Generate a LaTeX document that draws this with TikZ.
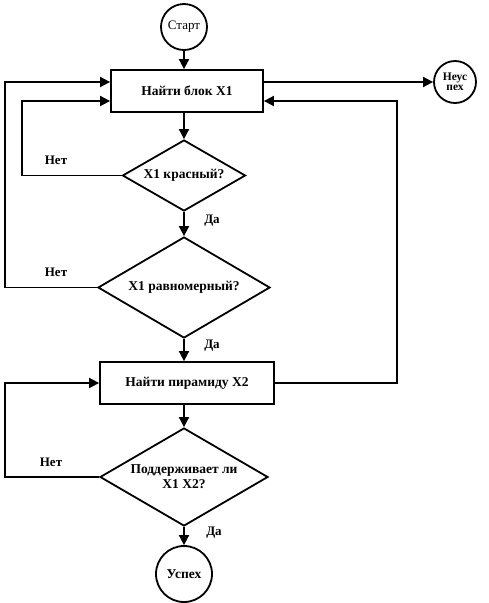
\documentclass[tikz,border=0pt]{standalone}
\usepackage{fontspec}
\setmainfont{Liberation Serif}
\usetikzlibrary{shapes.geometric,arrows.meta}
\begin{document}
\begin{tikzpicture}[x=1pt,y=-1pt,
  every node/.style={font=\bfseries\fontsize{13.5}{15}\selectfont, line width=1.8pt},
  arr/.style={line width=1.8pt,-{Triangle[length=10pt,width=10pt]}},
  term/.style={draw,circle,inner sep=0pt},
  proc/.style={draw,rectangle,inner sep=0pt},
  dec/.style={draw,diamond,inner sep=0pt,aspect=1.7},
  lbl/.style={font=\bfseries\fontsize{13}{14}\selectfont}]
\useasboundingbox (0,0) rectangle (489,603);
\node[term,minimum size=46pt,font=\fontsize{13}{14}\selectfont] (start) at (184,27) {Старт};
\node[proc,minimum width=152pt,minimum height=42pt] (box1) at (187,91) {Найти блок X1};
\node[term,minimum size=42pt,align=center,font=\bfseries\fontsize{11.5}{10}\selectfont] (fail) at (455,82) {Неус\\пех};
\node[dec,minimum width=123pt,minimum height=71pt] (d1) at (184,175.5) {X1 красный?};
\node[dec,minimum width=172pt,minimum height=101pt] (d2) at (184,287.5) {X1 равномерный?};
\node[proc,minimum width=174pt,minimum height=42pt] (box2) at (187,383) {Найти пирамиду X2};
\node[dec,minimum width=168pt,minimum height=98pt,align=center] (d3) at (184,477) {Поддерживает ли\\X1 X2?};
\node[term,minimum size=56pt] (succ) at (184,574) {Успех};
\coordinate (l0) at (5,82);
\coordinate (l1) at (22,101);
\coordinate (l2) at (5,383);
\coordinate (r1) at (397,101);
\draw[arr] (start.south) -- (start.south |- box1.north);
\draw[arr] (d1.north |- box1.south) -- (d1.north);
\draw[arr] (d1.south) -- (d2.north);
\draw[arr] (d2.south) -- (d2.south |- box2.north);
\draw[arr] (d3.north |- box2.south) -- (d3.north);
\draw[arr] (d3.south) -- (succ.north);
\draw[arr] (box1.east |- fail.west) -- (fail.west);
\draw[arr] (d1.west) -| (l1) -- (l1 -| box1.west);
\draw[arr] (d2.west) -| (l0) -- (l0 -| box1.west);
\draw[arr] (box2.east) -| (r1) -- (r1 -| box1.east);
\draw[arr] (d3.west) -| (l2) -- (box2.west);
\node[lbl] (n1) at (56,160) {Нет};
\node[lbl] (n2) at (56,272) {Нет};
\node[lbl] (n3) at (51,462) {Нет};
\node[lbl] (y1) at (212,221) {Да};
\node[lbl] (y2) at (212,346) {Да};
\node[lbl] (y3) at (214,533) {Да};
\end{tikzpicture}
\end{document}
